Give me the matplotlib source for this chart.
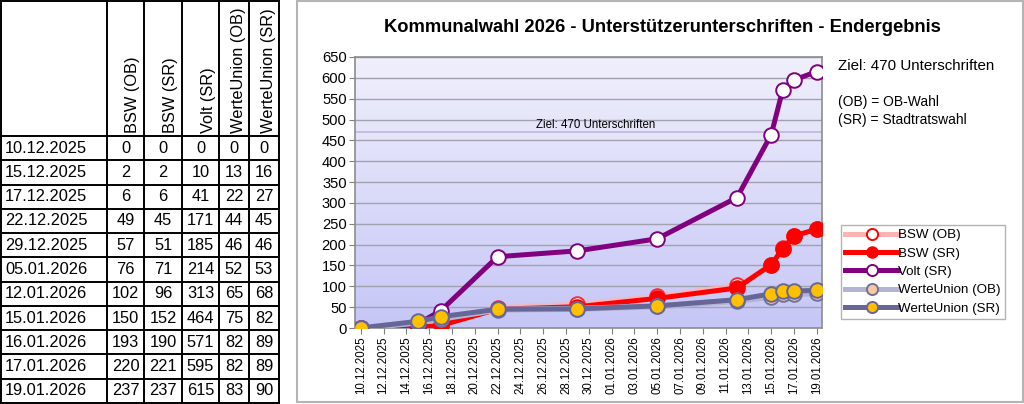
import matplotlib
matplotlib.use("Agg")
import matplotlib.pyplot as plt
import matplotlib.dates as mdates
from matplotlib.patches import Rectangle
from matplotlib.lines import Line2D
import numpy as np
from datetime import datetime, timedelta

plt.rcParams['font.family'] = ['Liberation Sans', 'DejaVu Sans']

# ---------------- data ----------------
dates = ["10.12.2025", "15.12.2025", "17.12.2025", "22.12.2025", "29.12.2025",
         "05.01.2026", "12.01.2026", "15.01.2026", "16.01.2026", "17.01.2026",
         "19.01.2026"]
series_names = ["BSW (OB)", "BSW (SR)", "Volt (SR)", "WerteUnion (OB)", "WerteUnion (SR)"]
bsw_ob = [0, 2, 6, 49, 57, 76, 102, 150, 193, 220, 237]
bsw_sr = [0, 2, 6, 45, 51, 71, 96, 152, 190, 221, 237]
volt_sr = [0, 10, 41, 171, 185, 214, 313, 464, 571, 595, 615]
wu_ob = [0, 13, 22, 44, 46, 52, 65, 75, 82, 82, 83]
wu_sr = [0, 16, 27, 45, 46, 53, 68, 82, 89, 89, 90]
goal = 470
title = "Kommunalwahl 2026 - Unterstützerunterschriften - Endergebnis"
goal_label = "Ziel: 470 Unterschriften"
notes = ["Ziel: 470 Unterschriften", "(OB) = OB-Wahl", "(SR) = Stadtratswahl"]
y_ticks = list(range(0, 651, 50))

W, H = 1024, 404
fig = plt.figure(figsize=(W / 100, H / 100), dpi=100)
fig.patch.set_facecolor("white")


def fx(px):
    return px / W


def fy(py):
    return 1 - py / H


# ---------------- table ----------------
tab = fig.add_axes([0, 0, 1, 1])
tab.set_xlim(0, W)
tab.set_ylim(H, 0)
tab.axis("off")

col_edges = [1, 107, 144, 182, 219, 249, 279]
header_bottom = 136
row_h = (403 - header_bottom) / len(dates)
row_edges = [1] + [header_bottom + i * row_h for i in range(len(dates) + 1)]
tfs = 11.8

for x in col_edges:
    tab.plot([x, x], [row_edges[0], row_edges[-1]], color="black", lw=1.4,
             solid_capstyle="projecting")
for i, y in enumerate(row_edges):
    tab.plot([col_edges[0], col_edges[-1]], [y, y], color="black", lw=1.4,
             solid_capstyle="projecting")

for j, name in enumerate(series_names):
    tab.text(col_edges[j + 2] - 3.5, header_bottom - 3, name, rotation=90,
             ha="right", va="bottom", fontsize=tfs)

cols = [bsw_ob, bsw_sr, volt_sr, wu_ob, wu_sr]
for i, d in enumerate(dates):
    yc = (row_edges[i + 1] + row_edges[i + 2]) / 2
    tab.text(col_edges[0] + 4, yc, d, ha="left", va="center", fontsize=tfs)
    for j, c in enumerate(cols):
        xc = (col_edges[j + 1] + col_edges[j + 2]) / 2
        tab.text(xc, yc, str(c[i]), ha="center", va="center", fontsize=tfs)

# chart border
fig.patches.append(Rectangle((fx(297), fy(402)), fx(1023) - fx(297), fy(1) - fy(402),
                             transform=fig.transFigure, fill=False,
                             edgecolor="#B4B4B4", lw=1.5))

# ---------------- chart ----------------
L, R, T, B = 355, 822, 57, 328
ax = fig.add_axes([fx(L), fy(B), fx(R) - fx(L), fy(T) - fy(B)])

xd = [mdates.date2num(datetime.strptime(d, "%d.%m.%Y")) for d in dates]
x0, x1 = xd[0], xd[-1]
ax.set_xlim(x0 - 0.5, x1 + 0.45)
ax.set_ylim(0, 650)

# gradient background
grad = np.linspace(0, 1, 256).reshape(-1, 1)
top = np.array([0xF0, 0xF0, 0xFC]) / 255
bot = np.array([0xC6, 0xC6, 0xF7]) / 255
img = top[None, None, :] * (1 - grad[:, :, None]) + bot[None, None, :] * grad[:, :, None]
ax.imshow(img, extent=[0, 1, 0, 1], transform=ax.transAxes, aspect="auto", zorder=0)

for yv in y_ticks:
    ax.axhline(yv, color="#A2A2AE", lw=1.0, zorder=1)
ax.axhline(goal, color="#C4B4DC", lw=1.2, zorder=1.5)
ax.text(0.516, goal + 3, goal_label, transform=ax.get_yaxis_transform(),
        ha="center", va="bottom", fontsize=8.3, zorder=2)

lw = 3.6
ms = 10.5
ax.plot(xd, bsw_ob, color="#FFB4B4", lw=lw, alpha=0.8, marker="o", ms=ms,
        mfc="white", mec="#FF0000", mew=1.4, zorder=3)
ax.plot(xd, bsw_sr, color="#FF0000", lw=lw, marker="o", ms=ms,
        mfc="#FF0000", mec="#FF0000", mew=1.4, zorder=4)
ax.plot(xd, volt_sr, color="#800080", lw=lw, marker="o", ms=ms,
        mfc="white", mec="#800080", mew=1.4, zorder=5)
ax.plot(xd, wu_ob, color="#B4B4D2", lw=lw + 0.8, marker="o", ms=ms,
        mfc="#FAC8A0", mec="#7070A0", mew=1.4, zorder=6)
ax.plot(xd, wu_sr, color="#666699", lw=lw, marker="o", ms=ms,
        mfc="#FFC000", mec="#666699", mew=1.4, zorder=7)

ticks = np.arange(x0, x1 + 0.5, 2)
ax.set_xticks(ticks)
ax.set_xticklabels([mdates.num2date(t).strftime("%d.%m.%Y") for t in ticks],
                   rotation=90, fontsize=8.3)
ax.set_yticks(y_ticks)
ax.set_yticklabels([str(v) for v in y_ticks], fontsize=10.6)
ax.tick_params(axis="x", length=4, width=0.8, color="#808080", pad=2)
ax.tick_params(axis="y", length=4, width=0.8, color="#808080", pad=2)
for s in ax.spines.values():
    s.set_color("#8C8C8C")
    s.set_linewidth(1.2)

# title and notes
fig.text(fx(662), fy(28), title, ha="center", va="center", fontsize=13.2,
         fontweight="bold")
fig.text(fx(838), fy(66), notes[0], ha="left", va="center", fontsize=10.9)
fig.text(fx(838), fy(102), notes[1], ha="left", va="center", fontsize=10.0)
fig.text(fx(838), fy(120), notes[2], ha="left", va="center", fontsize=10.0)

# legend
handles = [
    Line2D([], [], color="#FFB4B4", lw=lw, marker="o", ms=8, mfc="white", mec="#FF0000", mew=1.4),
    Line2D([], [], color="#FF0000", lw=lw, marker="o", ms=8, mfc="#FF0000", mec="#FF0000"),
    Line2D([], [], color="#800080", lw=lw, marker="o", ms=8, mfc="white", mec="#800080", mew=1.4),
    Line2D([], [], color="#B4B4D2", lw=lw, marker="o", ms=8, mfc="#FAC8A0", mec="#7070A0", mew=1.4),
    Line2D([], [], color="#666699", lw=lw, marker="o", ms=8, mfc="#FFC000", mec="#666699", mew=1.4),
]
leg = fig.legend(handles, series_names, loc="upper left",
                 bbox_to_anchor=(fx(841), fy(225)), borderaxespad=0,
                 fontsize=9.6, frameon=True, fancybox=False, edgecolor="#A0A0A0",
                 handlelength=4.0, handletextpad=0.0, labelspacing=0.45,
                 borderpad=0.3)
leg.get_frame().set_linewidth(1.0)

fig.savefig("out.png", dpi=100)
